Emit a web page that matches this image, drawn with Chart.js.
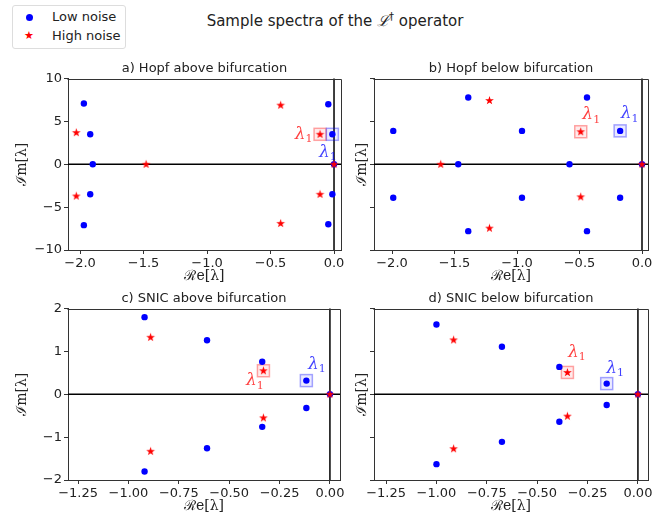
<!DOCTYPE html>
<html>
<head>
<meta charset="utf-8">
<script src="https://cdn.jsdelivr.net/npm/chart.js@4.4.0/dist/chart.umd.min.js"></script>
<style>
  body { margin: 0; background: #fff; }
  #fig { position: relative; width: 665px; height: 517px; overflow: hidden; font-family: 'DejaVu Sans', sans-serif; color: #222; }
  #fig canvas { position: absolute; }
  #suptitle { position: absolute; top: 8px; left: 0; width: 670px; text-align: center; font-size: 15px; line-height: 18px; }
  #suptitle .cal { font-family: 'DejaVu Serif', serif; font-style: italic; }
  #suptitle sup { font-size: 10px; }
  #legend { position: absolute; left: 12px; top: 5px; width: 112px; height: 42px; border: 1px solid #ddd; border-radius: 3px; font-size: 13px; }
  .row { position: absolute; left: 0; height: 18px; line-height: 18px; }
  .row span.lbl { position: absolute; left: 39px; white-space: nowrap; }
  .dot { position: absolute; left: 13px; top: 6px; width: 7px; height: 7px; border-radius: 50%; background: #0000ff; }
  .star { position: absolute; left: 11px; top: 0; color: #ff0000; font-size: 11px; }
</style>
</head>
<body>
<div id="fig">
  <div id="suptitle">Sample spectra of the <span class="cal">ℒ</span><sup>†</sup> operator</div>
  <div id="legend">
    <div class="row" style="top:2px"><div class="dot"></div><span class="lbl">Low noise</span></div>
    <div class="row" style="top:21px"><span class="star">★</span><span class="lbl">High noise</span></div>
  </div>
  <canvas id="hopfAbove" width="348" height="227" style="left:0px;top:59px"></canvas>
  <canvas id="hopfBelow" width="316" height="227" style="left:340px;top:59px"></canvas>
  <canvas id="snicAbove" width="347" height="227" style="left:0px;top:289px"></canvas>
  <canvas id="snicBelow" width="316" height="227" style="left:340px;top:289px"></canvas>
</div>
<script>
'use strict';

// a) Hopf above bifurcation
const hopfAboveLowRe = [-1.97, -1.92, -1.90, -1.92, -1.97, -0.045, -0.013, 0, -0.013, -0.045];
const hopfAboveLowIm = [7.1, 3.5, 0, -3.5, -7.1, 7.0, 3.5, 0, -3.5, -7.0];
const hopfAboveHighRe = [-2.03, -2.03, -1.48, -0.42, -0.42, -0.11, -0.11, 0];
const hopfAboveHighIm = [3.7, -3.7, 0, 6.9, -6.9, 3.5, -3.5, 0];

// b) Hopf below bifurcation
const hopfBelowLowRe = [-1.99, -1.99, -1.39, -1.39, -1.47, -0.96, -0.96, -0.58, -0.44, -0.44, -0.175, -0.175, 0];
const hopfBelowLowIm = [3.9, -3.9, 7.8, -7.8, 0, 3.9, -3.9, 0, 7.8, -7.8, 3.9, -3.9, 0];
const hopfBelowHighRe = [-1.61, -1.22, -1.22, -0.49, -0.49, 0];
const hopfBelowHighIm = [0, 7.45, -7.45, 3.8, -3.8, 0];

// c) SNIC above bifurcation
const snicAboveLowRe = [-0.92, -0.61, -0.336, -0.117, -0.117, -0.336, -0.61, -0.92, 0];
const snicAboveLowIm = [1.80, 1.26, 0.76, 0.32, -0.32, -0.76, -1.26, -1.80, 0];
const snicAboveHighRe = [-0.89, -0.33, -0.33, -0.89, 0];
const snicAboveHighIm = [1.33, 0.55, -0.55, -1.33, 0];

// d) SNIC below bifurcation
const snicBelowLowRe = [-1.00, -0.675, -0.39, -0.155, -0.155, -0.39, -0.675, -1.00, 0];
const snicBelowLowIm = [1.63, 1.11, 0.64, 0.25, -0.25, -0.64, -1.11, -1.63, 0];
const snicBelowHighRe = [-0.915, -0.35, -0.35, -0.915, 0];
const snicBelowHighIm = [1.27, 0.51, -0.51, -1.27, 0];

// lambda_1 (the marked eigenvalue) for each panel: [re, im]
const hopfAboveLambdaLow = [-0.013, 3.5];
const hopfAboveLambdaHigh = [-0.11, 3.5];
const hopfBelowLambdaLow = [-0.175, 3.9];
const hopfBelowLambdaHigh = [-0.49, 3.8];
const snicAboveLambdaLow = [-0.117, 0.32];
const snicAboveLambdaHigh = [-0.33, 0.55];
const snicBelowLambdaLow = [-0.155, 0.25];
const snicBelowLambdaHigh = [-0.35, 0.51];

// tick labels
const hopfReTicks = [-2.0, -1.5, -1.0, -0.5, 0.0];
const hopfImTicks = [-10, -5, 0, 5, 10];
const snicReTicks = [-1.25, -1.00, -0.75, -0.50, -0.25, 0.00];
const snicImTicks = [-2, -1, 0, 1, 2];

const seriesNames = ['Low noise', 'High noise'];
const panelTitles = ['a) Hopf above bifurcation', 'b) Hopf below bifurcation', 'c) SNIC above bifurcation', 'd) SNIC below bifurcation'];

Chart.defaults.font.family = "'DejaVu Sans', sans-serif";
const tickFont = { size: 13 };
const labelFont = { size: 14, family: "'DejaVu Serif', serif" };
const axisColor = '#333';

// filled five pointed star like matplotlib's '*'
const redStar = (function () {
  const c = document.createElement('canvas');
  c.width = 11;
  c.height = 11;
  const g = c.getContext('2d');
  g.fillStyle = '#ff0000';
  g.beginPath();
  for (let i = 0; i < 10; i++) {
    const r = i % 2 ? 1.8 : 4.6;
    const a = -Math.PI / 2 + i * Math.PI / 5;
    g.lineTo(5.5 + r * Math.cos(a), 5.6 + r * Math.sin(a));
  }
  g.closePath();
  g.fill();
  return c;
})();

function fmt(v, dec) {
  const s = Math.abs(v).toFixed(dec);
  return (v < -1e-9 ? '\u2212' : '') + s;
}

function toPoints(re, im) {
  return re.map((x, i) => ({ x: x, y: im[i] }));
}

// zero lines, frame, lambda_1 boxes and labels
const framePlugin = {
  id: 'frame',
  beforeDatasetsDraw(chart) {
    const { ctx, chartArea: a, scales: { x, y } } = chart;
    const x0 = x.getPixelForValue(0);
    const y0 = y.getPixelForValue(0);
    ctx.save();
    ctx.strokeStyle = '#000';
    ctx.lineWidth = 1.5;
    ctx.beginPath();
    ctx.moveTo(a.left, y0);
    ctx.lineTo(a.right, y0);
    ctx.moveTo(x0, a.top);
    ctx.lineTo(x0, a.bottom);
    ctx.stroke();
    // boxes round lambda_1
    chart.options.lambdaMarks.forEach(m => {
      const px = x.getPixelForValue(m.at[0]);
      const py = y.getPixelForValue(m.at[1]);
      ctx.fillStyle = m.fill;
      ctx.strokeStyle = m.edge;
      ctx.lineWidth = 1.5;
      ctx.fillRect(px - 6, py - 6, 12, 12);
      ctx.strokeRect(px - 6, py - 6, 12, 12);
    });
    ctx.restore();
  },
  afterDatasetsDraw(chart) {
    const { ctx, chartArea: a, scales: { x, y } } = chart;
    ctx.save();
    ctx.strokeStyle = axisColor;
    ctx.lineWidth = 1;
    ctx.beginPath();
    ctx.moveTo(Math.round(a.left) - 0.5, Math.round(a.top) + 0.5);
    ctx.lineTo(Math.round(a.right) + 0.5, Math.round(a.top) + 0.5);
    ctx.lineTo(Math.round(a.right) + 0.5, Math.round(a.bottom));
    ctx.stroke();
    chart.options.lambdaMarks.forEach(m => {
      const cx = x.getPixelForValue(m.at[0]) + m.dx;
      const cy = y.getPixelForValue(m.at[1]) + m.dy;
      ctx.fillStyle = m.text;
      ctx.textBaseline = 'middle';
      ctx.textAlign = 'center';
      ctx.font = "italic 17px 'DejaVu Serif', serif";
      ctx.fillText('λ', cx, cy);
      const w = ctx.measureText('λ').width;
      ctx.font = "11px 'DejaVu Serif', serif";
      ctx.textAlign = 'left';
      ctx.fillText('1', cx + w / 2, cy + 5);
    });
    ctx.restore();
  }
};

function lambdaMarks(low, high, lowOff, highOff) {
  return [
    { at: high, dx: highOff[0], dy: highOff[1], edge: 'rgba(255,0,0,0.35)', fill: 'rgba(255,0,0,0.08)', text: 'rgba(255,0,0,0.75)' },
    { at: low, dx: lowOff[0], dy: lowOff[1], edge: 'rgba(0,0,255,0.35)', fill: 'rgba(0,0,255,0.08)', text: 'rgba(0,0,255,0.75)' }
  ];
}

function makePanel(id, p) {
  return new Chart(document.getElementById(id), {
    type: 'scatter',
    data: {
      datasets: [
        {
          label: seriesNames[0],
          data: toPoints(p.lowRe, p.lowIm),
          pointStyle: 'circle',
          pointRadius: 3.2,
          borderWidth: 0,
          backgroundColor: '#0000ff',
          order: 2
        },
        {
          label: seriesNames[1],
          data: toPoints(p.highRe, p.highIm),
          pointStyle: redStar,
          order: 1
        }
      ]
    },
    options: {
      responsive: false,
      animation: false,
      events: [],
      lambdaMarks: p.marks,
      layout: { padding: { left: 0, right: p.padRight, top: 0, bottom: 0 } },
      plugins: {
        legend: { display: false },
        tooltip: { enabled: false },
        title: {
          display: true,
          fullSize: false,
          text: p.title,
          color: '#222',
          font: { size: 13, weight: 'normal' },
          padding: { top: 2, bottom: 2 }
        }
      },
      scales: {
        x: {
          type: 'linear',
          min: p.xMin,
          max: p.xMax,
          afterBuildTicks: s => { s.ticks = p.xTicks.map(v => ({ value: v })); },
          afterFit: s => { s.height = 36; },
          ticks: { callback: v => fmt(v, p.xDec), font: tickFont, color: '#222', padding: 2, maxRotation: 0, autoSkip: false },
          grid: { drawOnChartArea: false, tickLength: 4, tickColor: axisColor },
          border: { color: axisColor },
          title: { display: true, text: 'ℛe[λ]', font: labelFont, color: '#222', padding: { top: 0, bottom: 1 } }
        },
        y: {
          type: 'linear',
          min: p.yTicks[0],
          max: p.yTicks[p.yTicks.length - 1],
          afterBuildTicks: s => { s.ticks = p.yTicks.map(v => ({ value: v })); },
          afterFit: s => { s.width = p.yAxisW; },
          ticks: { display: p.showY, callback: v => fmt(v, 0), font: tickFont, color: '#222', padding: 2, autoSkip: false },
          grid: { drawOnChartArea: false, tickLength: 4, tickColor: axisColor },
          border: { color: axisColor },
          title: { display: true, text: 'ℐm[λ]', font: labelFont, color: '#222', padding: { top: 14, bottom: 0 } }
        }
      }
    },
    plugins: [framePlugin]
  });
}

makePanel('hopfAbove', {
  title: panelTitles[0],
  lowRe: hopfAboveLowRe, lowIm: hopfAboveLowIm, highRe: hopfAboveHighRe, highIm: hopfAboveHighIm,
  xMin: -2.095, xMax: 0.055, xTicks: hopfReTicks, xDec: 1, yTicks: hopfImTicks,
  yAxisW: 68, showY: true, padRight: 7,
  marks: lambdaMarks(hopfAboveLambdaLow, hopfAboveLambdaHigh, [-8, 18], [-20, 0])
});
makePanel('hopfBelow', {
  title: panelTitles[1],
  lowRe: hopfBelowLowRe, lowIm: hopfBelowLowIm, highRe: hopfBelowHighRe, highIm: hopfBelowHighIm,
  xMin: -2.144, xMax: 0.048, xTicks: hopfReTicks, xDec: 1, yTicks: hopfImTicks,
  yAxisW: 34, showY: false, padRight: 8,
  marks: lambdaMarks(hopfBelowLambdaLow, hopfBelowLambdaHigh, [6, -17], [7, -17])
});
makePanel('snicAbove', {
  title: panelTitles[2],
  lowRe: snicAboveLowRe, lowIm: snicAboveLowIm, highRe: snicAboveHighRe, highIm: snicAboveHighIm,
  xMin: -1.30, xMax: 0.05, xTicks: snicReTicks, xDec: 2, yTicks: snicImTicks,
  yAxisW: 68, showY: true, padRight: 7,
  marks: lambdaMarks(snicAboveLambdaLow, snicAboveLambdaHigh, [7, -16], [-12, 10])
});
makePanel('snicBelow', {
  title: panelTitles[3],
  lowRe: snicBelowLowRe, lowIm: snicBelowLowIm, highRe: snicBelowHighRe, highIm: snicBelowHighIm,
  xMin: -1.31, xMax: 0.05, xTicks: snicReTicks, xDec: 2, yTicks: snicImTicks,
  yAxisW: 34, showY: false, padRight: 8,
  marks: lambdaMarks(snicBelowLambdaLow, snicBelowLambdaHigh, [5, -15], [6, -20])
});
</script>
</body>
</html>
